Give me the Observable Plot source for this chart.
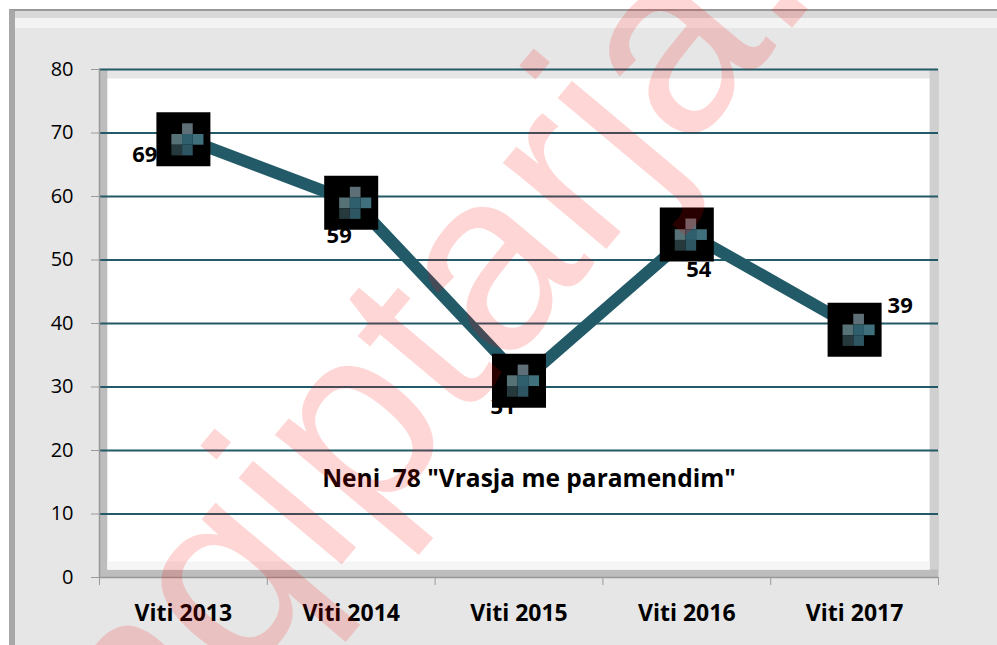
<!DOCTYPE html>
<html>
<head>
<meta charset="utf-8">
<script src="https://cdn.jsdelivr.net/npm/d3@7"></script>
<script src="https://cdn.jsdelivr.net/npm/@observablehq/plot@0.6"></script>
<style>
  html, body { margin: 0; padding: 0; background: #ffffff; }
  #wrap { position: relative; width: 997px; height: 645px; background: #ffffff; overflow: hidden; }
  #outer { position: absolute; left: 9px; top: 9px; width: 988px; height: 636px; background: #e6e6e6;
           box-sizing: border-box; border-left: 6px solid #a8a8a8; border-top: 2px solid #999999; }
  #band1 { position: absolute; left: 0; right: 0; top: 0; height: 7px; background: #d9d9d9; }
  #band2 { position: absolute; left: 0; right: 0; top: 7px; height: 10px; background: #f3f3f3; }
  #chart { position: absolute; left: 0; top: 0; }
  svg text { white-space: pre; }
</style>
</head>
<body>
<div id="wrap">
  <div id="outer"><div id="band1"></div><div id="band2"></div></div>
  <div id="chart"></div>
</div>
<script>
const categories = ["Viti 2013", "Viti 2014", "Viti 2015", "Viti 2016", "Viti 2017"];
const values = [69, 59, 31, 54, 39];
const valueLabels = ["69", "59", "31", "54", "39"];
const yTicks = [0, 10, 20, 30, 40, 50, 60, 70, 80];
const gridTicks = [10, 20, 30, 40, 50, 60, 70, 80];
const titleText = 'Neni  78 "Vrasja me paramendim"';
const watermarkText = "shqiptarja.com";

const data = categories.map((c, i) => ({cat: c, i, x: i + 0.5, value: values[i], label: valueLabels[i]}));
const centers = categories.map((c, i) => i + 0.5);
const bounds = d3.range(categories.length + 1);

// label placement (Excel default positions in the reference)
const placement = [
  {dx: -26, dy: 16, anchor: "end"},
  {dx: -12, dy: 33, anchor: "middle"},
  {dx: -16, dy: 26, anchor: "middle"},
  {dx: 12, dy: 35, anchor: "middle"},
  {dx: 33, dy: -24, anchor: "start"}
];

const teal = "#225a68";
const cell = 10.7;
const cellR = cell / Math.sqrt(Math.PI);
const cells = [
  {ox: 0, oy: -1, c: "#5f6f77"},
  {ox: -1, oy: 0, c: "#567276"},
  {ox: 0, oy: 0, c: "#2f5f6c"},
  {ox: 1, oy: 0, c: "#3f707c"},
  {ox: 0, oy: 1, c: "#2d5562"},
  {ox: -1, oy: 1, c: "#263a3e"}
];

const marks = [
  // plot-area shading (Excel 3D-ish frame)
  Plot.frame({fill: "#bdbdbd", stroke: null}),
  Plot.frame({fill: "#d0d0d0", stroke: null, insetLeft: 8, insetBottom: 8}),
  Plot.frame({fill: "#e6e6e6", stroke: null, insetLeft: 8, insetBottom: 8, insetRight: 9}),
  Plot.frame({fill: "#ffffff", stroke: null, insetLeft: 8, insetBottom: 8, insetRight: 9, insetTop: 9}),
  Plot.frame({fill: "#f5f5f5", stroke: null, insetLeft: 8, insetBottom: 8, insetRight: 9, insetTop: 492}),
  // gridlines
  Plot.ruleY(gridTicks, {stroke: teal, strokeWidth: 1.8}),
  // axis lines
  Plot.ruleY([0], {stroke: "#999999", strokeWidth: 1.5}),
  Plot.ruleX([0], {y1: 0, y2: 80, stroke: "#999999", strokeWidth: 1.5}),
  // axes
  Plot.axisY({ticks: yTicks, tickSize: 8, tickPadding: 18, stroke: "#999999", fill: "#000000", label: null,
              fontSize: 20, fontFamily: "Open Sans", tickFormat: d => String(d)}),
  Plot.axisX({ticks: bounds, tickSize: 8, stroke: "#999999", text: null, label: null}),
  Plot.axisX({ticks: centers, tickSize: 0, tickPadding: 27, fill: "#000000", label: null,
              fontSize: 23, fontWeight: "bold", fontFamily: "Open Sans",
              tickFormat: d => categories[Math.floor(d)]}),
  // data labels (drawn under the markers)
  ...placement.map((p, i) => Plot.text(data.filter(d => d.i === i), {
    x: "x", y: "value", text: "label", dx: p.dx, dy: p.dy, textAnchor: p.anchor,
    fontSize: 22, fontWeight: "bold", fill: "#000000", fontFamily: "Open Sans"
  })),
  // series line
  Plot.line(data, {x: "x", y: "value", stroke: teal, strokeWidth: 12, dx: 4}),
  // square markers
  Plot.dot(data, {x: "x", y: "value", symbol: "square", r: 54 / Math.sqrt(Math.PI), fill: "#000000", stroke: null}),
  // pixelated plus inside markers
  ...cells.map(k => Plot.dot(data, {x: "x", y: "value", symbol: "square", r: cellR, fill: k.c, stroke: null,
                                    dx: 4 + k.ox * cell, dy: k.oy * cell})),
  // chart title inside plot area
  Plot.text([titleText], {frameAnchor: "bottom", text: d => d, dx: 10, dy: -91, fontSize: 24.5,
                          fontWeight: "bold", fill: "#000000", fontFamily: "Open Sans"}),
  // watermark
  Plot.text([watermarkText], {frameAnchor: "top-left", text: d => d, dx: -33, dy: 823, rotate: -50,
                              textAnchor: "start", lineAnchor: "bottom", fontSize: 255,
                              fill: "#ff0000", fillOpacity: 0.16, fontFamily: "Liberation Sans"})
];

const chart = Plot.plot({
  width: 997,
  height: 645,
  marginLeft: 99,
  marginRight: 59,
  marginTop: 69,
  marginBottom: 68,
  x: {domain: [0, categories.length], axis: null},
  y: {domain: [0, 80], axis: null},
  style: {background: "transparent", fontFamily: "Open Sans", color: "#000000", overflow: "hidden"},
  marks
});
document.getElementById("chart").appendChild(chart);
</script>
</body>
</html>
